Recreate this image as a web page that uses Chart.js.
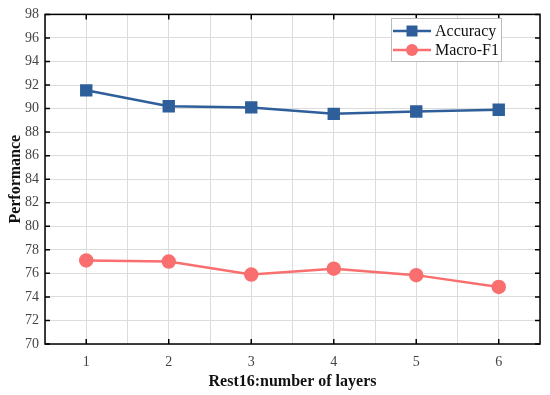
<!DOCTYPE html>
<html><head><meta charset="utf-8">
<script src="https://cdn.jsdelivr.net/npm/chart.js@4/dist/chart.umd.min.js"></script>
<style>html,body{margin:0;padding:0;background:#fff;}#wrap{width:550px;height:395px;}</style>
</head><body><div id="wrap"><canvas id="c" width="550" height="395"></canvas></div>
<script>
const layers = [1, 2, 3, 4, 5, 6];
const accuracy = [91.55, 90.2, 90.1, 89.55, 89.75, 89.9];
const macroF1 = [77.1, 77.0, 75.9, 76.4, 75.85, 74.85];
const xLabels = ['1', '2', '3', '4', '5', '6'];
const seriesNames = ['Accuracy', 'Macro-F1'];
const yMin = 70, yMax = 98, yStep = 2;

const BLUE = '#2f5f9a', RED = '#f96e6e';
const SERIF = '"Liberation Serif", "Times New Roman", serif';

const framePlugin = {
  id: 'frame',
  afterDraw(chart) {
    const ctx = chart.ctx, a = chart.chartArea;
    const xs = chart.scales.x, ys = chart.scales.y;
    ctx.save();
    ctx.strokeStyle = '#000';
    ctx.lineWidth = 1.5;
    ctx.strokeRect(a.left, a.top, a.right - a.left, a.bottom - a.top);
    const tl = 5;
    ctx.beginPath();
    layers.forEach(v => {
      const px = xs.getPixelForValue(v);
      ctx.moveTo(px, a.bottom); ctx.lineTo(px, a.bottom - tl);
      ctx.moveTo(px, a.top); ctx.lineTo(px, a.top + tl);
    });
    for (let v = yMin; v <= yMax; v += yStep) {
      const py = ys.getPixelForValue(v);
      ctx.moveTo(a.left, py); ctx.lineTo(a.left + tl, py);
      ctx.moveTo(a.right, py); ctx.lineTo(a.right - tl, py);
    }
    ctx.stroke();
    // legend
    const bx = 391, by = 18, bw = 110, bh = 43;
    ctx.fillStyle = '#fff';
    ctx.fillRect(bx, by, bw, bh);
    ctx.strokeStyle = '#bbb';
    ctx.lineWidth = 1;
    ctx.strokeRect(bx + 0.5, by + 0.5, bw, bh);
    const rows = [
      {name: seriesNames[0], color: BLUE, shape: 'rect', y: by + 13},
      {name: seriesNames[1], color: RED, shape: 'circle', y: by + 32}
    ];
    ctx.font = '16px ' + SERIF;
    ctx.textBaseline = 'middle';
    rows.forEach(r => {
      ctx.strokeStyle = r.color; ctx.lineWidth = 2.5;
      ctx.beginPath(); ctx.moveTo(bx + 2, r.y); ctx.lineTo(bx + 40, r.y); ctx.stroke();
      ctx.fillStyle = r.color;
      if (r.shape === 'rect') ctx.fillRect(bx + 21 - 5.5, r.y - 5.5, 11, 11);
      else { ctx.beginPath(); ctx.arc(bx + 21, r.y, 6, 0, Math.PI * 2); ctx.fill(); }
      ctx.fillStyle = '#111';
      ctx.fillText(r.name, bx + 44, r.y + 1);
    });
    ctx.restore();
  }
};

new Chart(document.getElementById('c'), {
  type: 'line',
  data: {
    datasets: [
      {label: seriesNames[0], data: layers.map((x, i) => ({x, y: accuracy[i]})),
       borderColor: BLUE, backgroundColor: BLUE, borderWidth: 2.5,
       pointStyle: 'rect', pointRadius: 7, pointHoverRadius: 7, tension: 0},
      {label: seriesNames[1], data: layers.map((x, i) => ({x, y: macroF1[i]})),
       borderColor: RED, backgroundColor: RED, borderWidth: 2.5,
       pointStyle: 'circle', pointRadius: 6, pointHoverRadius: 6, tension: 0}
    ]
  },
  options: {
    responsive: false,
    animation: false,
    devicePixelRatio: 1,
    layout: {padding: {left: 0, right: 10, top: 13, bottom: 0}},
    plugins: {legend: {display: false}, tooltip: {enabled: false}},
    scales: {
      x: {
        type: 'linear', min: 0.5, max: 6.5,
        afterBuildTicks(s) {
          const t = [];
          for (let v = 0.5; v <= 6.5001; v += 0.5) t.push({value: Math.round(v * 10) / 10});
          s.ticks = t;
        },
        afterFit(s) { s.height = 51; },
        grid: {color: '#dcdcdc', lineWidth: 1, drawTicks: false},
        border: {display: false},
        ticks: {
          autoSkip: false, maxRotation: 0, padding: 10,
          color: '#444', font: {family: SERIF, size: 14},
          callback(v) { return Number.isInteger(v) ? xLabels[v - 1] : ''; }
        },
        title: {display: true, text: 'Rest16:number of layers', color: '#111',
                font: {family: SERIF, size: 16, weight: 'bold'}, padding: {top: 2, bottom: 4}}
      },
      y: {
        min: yMin, max: yMax,
        afterFit(s) { s.width = 45; },
        grid: {color: '#dcdcdc', lineWidth: 1, drawTicks: false},
        border: {display: false},
        ticks: {stepSize: yStep, padding: 6, color: '#444', font: {family: SERIF, size: 14}},
        title: {display: true, text: 'Performance', color: '#111',
                font: {family: SERIF, size: 16, weight: 'bold'}, padding: {top: 6, bottom: 0}}
      }
    }
  },
  plugins: [framePlugin]
});
</script></body></html>
